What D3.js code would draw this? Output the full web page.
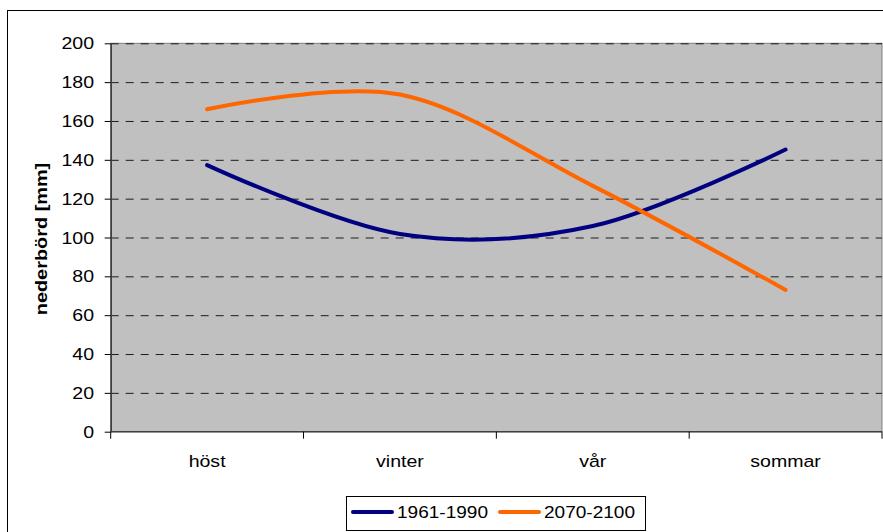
<!DOCTYPE html>
<html>
<head>
<meta charset="utf-8">
<script src="https://cdn.jsdelivr.net/npm/d3@7"></script>
<style>
  html, body { margin: 0; padding: 0; background: #fff; }
  svg { display: block; }
  text { font-family: "Liberation Sans", Arial, sans-serif; fill: #000; }
</style>
</head>
<body>
<svg id="chart" width="883" height="532"></svg>
<script>
// Seasons on the category axis
const seasons = ["höst", "vinter", "vår", "sommar"];
// Seasonal precipitation, mm
const period1 = [137.3, 101.8, 105.9, 145.3];   // 1961-1990
const period2 = [166.0, 173.6, 126.6, 73.0];    // 2070-2100
const seriesNames = ["1961-1990", "2070-2100"];
const seriesColors = ["#000080", "#FF6600"];
const yTicks = [0, 20, 40, 60, 80, 100, 120, 140, 160, 180, 200];

const svg = d3.select("#chart");
const plot = { left: 110.7, right: 882, top: 43.3, bottom: 431.7 };
const FONT = 17;        // label size
const STRETCH = 1.15;   // labels are set slightly wide

// Outer chart frame
svg.append("rect")
  .attr("x", 7.5).attr("y", 10.5)
  .attr("width", 900).attr("height", 600)
  .attr("fill", "#fff").attr("stroke", "#000").attr("stroke-width", 1);

const x = d3.scaleBand().domain(seasons).range([plot.left, plot.right]).padding(0);
const y = d3.scaleLinear().domain([0, 200]).range([plot.bottom, plot.top]);

// Plot area background
svg.append("rect")
  .attr("x", plot.left).attr("y", plot.top)
  .attr("width", plot.right - plot.left).attr("height", plot.bottom - plot.top)
  .attr("fill", "#C0C0C0").attr("stroke", "#808080").attr("stroke-width", 1);

// Dashed gridlines
const grid = svg.append("g").attr("transform", `translate(${plot.left},0)`)
  .call(d3.axisLeft(y).tickValues(yTicks.filter(v => v > 0))
    .tickSize(-(plot.right - plot.left)).tickFormat(""));
grid.select(".domain").remove();
grid.selectAll(".tick line")
  .attr("stroke", "#000").attr("stroke-width", 1).attr("stroke-dasharray", "8,7")
  .attr("stroke-opacity", 0.85);

// Y axis (labels drawn separately so they can be widened)
const yAxis = svg.append("g").attr("transform", `translate(${plot.left},0)`)
  .call(d3.axisLeft(y).tickValues(yTicks).tickSize(6).tickSizeOuter(0).tickFormat(""));
yAxis.select(".domain").attr("stroke", "#404040").attr("stroke-width", 1.6);
yAxis.selectAll(".tick line").attr("stroke", "#000");
svg.append("g").selectAll("text").data(yTicks).join("text")
  .attr("transform", d => `translate(94,${y(d) + 6}) scale(${STRETCH},1)`)
  .attr("text-anchor", "end")
  .style("font-size", FONT + "px")
  .text(d => d);

// X axis: ticks between categories, labels centred in each band
const bounds = seasons.map(s => x(s)).concat([plot.right]);
const xAxis = svg.append("g");
xAxis.append("line")
  .attr("x1", plot.left).attr("x2", plot.right)
  .attr("y1", plot.bottom).attr("y2", plot.bottom)
  .attr("stroke", "#404040").attr("stroke-width", 1.6);
xAxis.selectAll("line.tk").data(bounds).join("line").attr("class", "tk")
  .attr("x1", d => d).attr("x2", d => d)
  .attr("y1", plot.bottom).attr("y2", plot.bottom + 7)
  .attr("stroke", "#000");
xAxis.selectAll("text").data(seasons).join("text")
  .attr("transform", d => `translate(${x(d) + x.bandwidth() / 2},467) scale(${STRETCH},1)`)
  .attr("text-anchor", "middle")
  .style("font-size", FONT + "px")
  .text(d => d);

// Y axis title
svg.append("text")
  .attr("transform", `translate(47,239) rotate(-90) scale(1.17,1)`)
  .attr("text-anchor", "middle")
  .style("font-size", FONT + "px").style("font-weight", "bold")
  .text("nederbörd [mm]");

// Smoothed series lines
const line = d3.line()
  .x((d, i) => x(seasons[i]) + x.bandwidth() / 2)
  .y(d => y(d))
  .curve(d3.curveCatmullRom.alpha(0));

[period1, period2].forEach((vals, k) => {
  svg.append("path")
    .datum(vals)
    .attr("d", line)
    .attr("fill", "none")
    .attr("stroke", seriesColors[k])
    .attr("stroke-width", 4)
    .attr("stroke-linecap", "round")
    .attr("stroke-linejoin", "round");
});

// Legend
const legend = svg.append("g");
legend.append("rect")
  .attr("x", 346.5).attr("y", 496.5).attr("width", 299).attr("height", 34)
  .attr("fill", "#fff").attr("stroke", "#000").attr("stroke-width", 1);
const legendX = [353, 500];
seriesNames.forEach((name, k) => {
  legend.append("line")
    .attr("x1", legendX[k]).attr("x2", legendX[k] + 39)
    .attr("y1", 512).attr("y2", 512)
    .attr("stroke", seriesColors[k]).attr("stroke-width", 4)
    .attr("stroke-linecap", "round");
  legend.append("text")
    .attr("transform", `translate(${legendX[k] + 44},517.5) scale(1.12,1)`)
    .style("font-size", FONT + "px")
    .text(name);
});
</script>
</body>
</html>
